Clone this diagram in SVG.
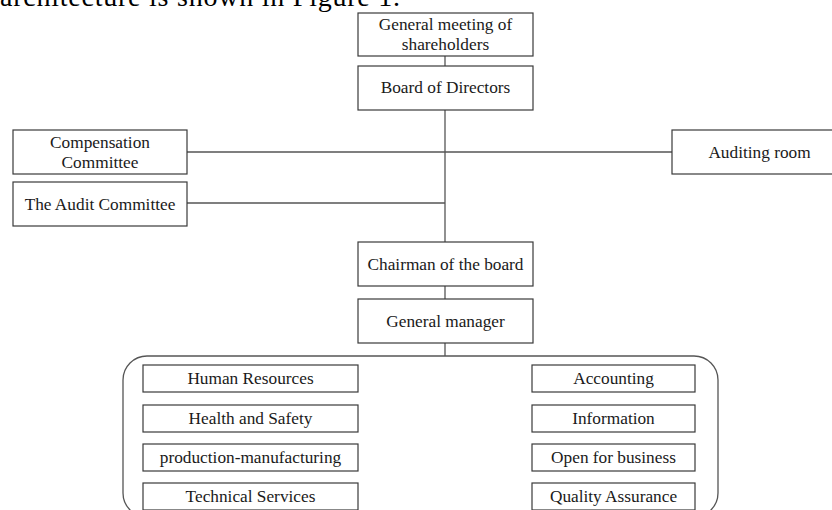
<svg xmlns="http://www.w3.org/2000/svg" width="832" height="510" viewBox="0 0 832 510">
<style>
  .box { fill: #ffffff; stroke: #3a3a3a; stroke-width: 1.2; }
  .con { stroke: #555555; stroke-width: 1.3; fill: none; }
  .t { font-family: "Liberation Serif", "Times New Roman", serif; font-size: 17.3px; fill: #1a1a1a; text-anchor: middle; }
  .cap { font-family: "Liberation Serif", "Times New Roman", serif; font-size: 28px; fill: #000000; }
</style>
<rect x="0" y="0" width="832" height="510" fill="#ffffff"/>
<text class="cap" x="0" y="6" textLength="400" lengthAdjust="spacing">architecture is shown in Figure 1.</text>

<g id="connectors">
  <line class="con" x1="445" y1="56" x2="445" y2="66"/>
  <line class="con" x1="445" y1="110" x2="445" y2="242"/>
  <line class="con" x1="187" y1="152" x2="672" y2="152"/>
  <line class="con" x1="187" y1="203" x2="445" y2="203"/>
  <line class="con" x1="445" y1="286" x2="445" y2="299"/>
  <line class="con" x1="445" y1="343" x2="445" y2="356"/>
</g>

<g id="general-meeting">
  <rect class="box" x="358" y="13" width="175" height="43"/>
  <text class="t" x="445.5" y="30">General meeting of</text>
  <text class="t" x="445.5" y="50">shareholders</text>
</g>
<g id="board-of-directors">
  <rect class="box" x="358" y="66" width="175" height="44"/>
  <text class="t" x="445.5" y="93">Board of Directors</text>
</g>
<g id="compensation-committee">
  <rect class="box" x="13" y="130" width="174" height="44"/>
  <text class="t" x="100" y="148">Compensation</text>
  <text class="t" x="100" y="168">Committee</text>
</g>
<g id="audit-committee">
  <rect class="box" x="13" y="182" width="174" height="44"/>
  <text class="t" x="100" y="210">The Audit Committee</text>
</g>
<g id="auditing-room">
  <rect class="box" x="672" y="130" width="175" height="44"/>
  <text class="t" x="759.5" y="158">Auditing room</text>
</g>
<g id="chairman">
  <rect class="box" x="358" y="242" width="175" height="44"/>
  <text class="t" x="445.5" y="270">Chairman of the board</text>
</g>
<g id="general-manager">
  <rect class="box" x="358" y="299" width="175" height="44"/>
  <text class="t" x="445.5" y="327">General manager</text>
</g>

<g id="departments">
  <rect x="123" y="356" width="595" height="161" rx="24" ry="24" fill="none" stroke="#555555" stroke-width="1.3"/>
</g>
<g id="human-resources">
  <rect class="box" x="143" y="365" width="215" height="27"/>
  <text class="t" x="250.5" y="383.5">Human Resources</text>
</g>
<g id="health-safety">
  <rect class="box" x="143" y="405" width="215" height="27"/>
  <text class="t" x="250.5" y="423.5">Health and Safety</text>
</g>
<g id="production">
  <rect class="box" x="143" y="444" width="215" height="27"/>
  <text class="t" x="250.5" y="462.5">production-manufacturing</text>
</g>
<g id="technical-services">
  <rect class="box" x="143" y="483" width="215" height="27"/>
  <text class="t" x="250.5" y="501.5">Technical Services</text>
</g>
<g id="accounting">
  <rect class="box" x="532" y="365" width="163" height="27"/>
  <text class="t" x="613.5" y="383.5">Accounting</text>
</g>
<g id="information">
  <rect class="box" x="532" y="405" width="163" height="27"/>
  <text class="t" x="613.5" y="423.5">Information</text>
</g>
<g id="open-for-business">
  <rect class="box" x="532" y="444" width="163" height="27"/>
  <text class="t" x="613.5" y="462.5">Open for business</text>
</g>
<g id="quality-assurance">
  <rect class="box" x="532" y="483" width="163" height="27"/>
  <text class="t" x="613.5" y="501.5">Quality Assurance</text>
</g>
</svg>
